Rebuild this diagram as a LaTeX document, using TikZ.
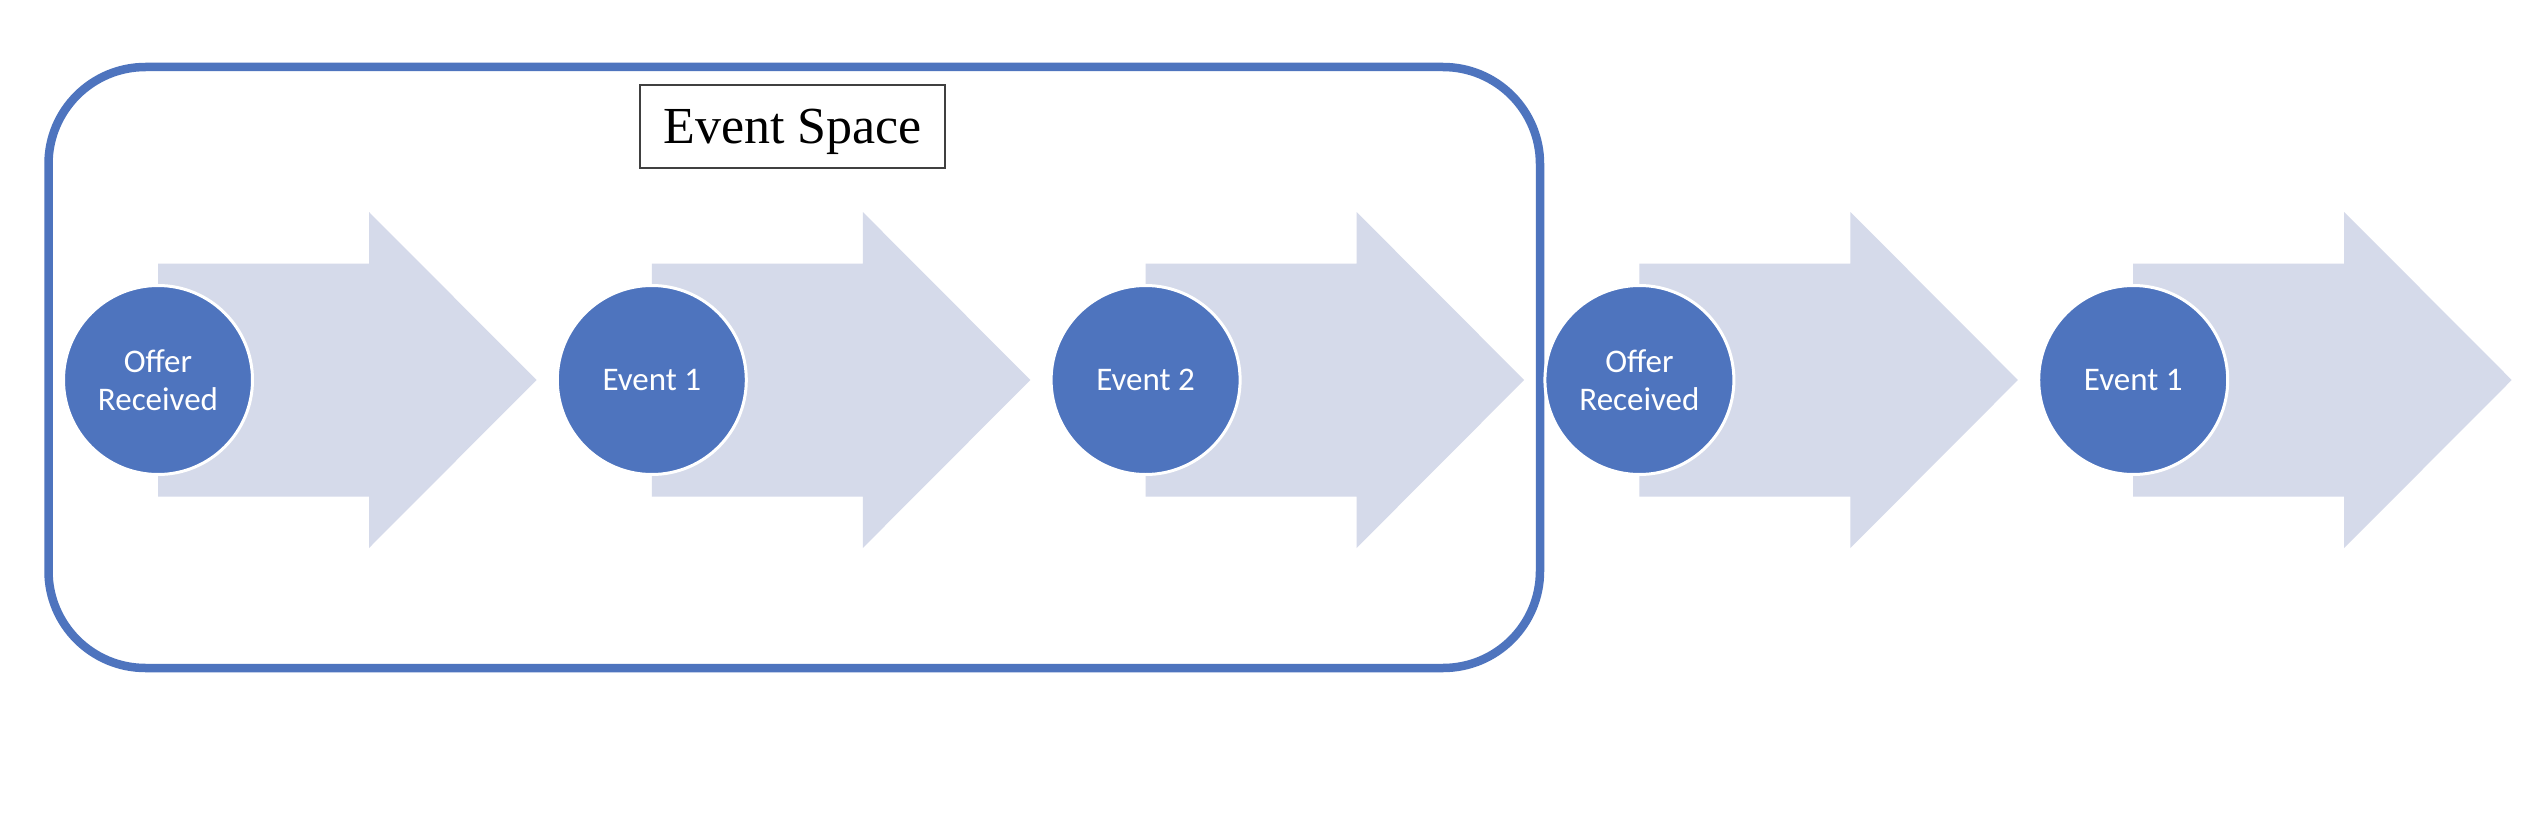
\documentclass[tikz,border=0pt]{standalone}
\usepackage{fontspec}
\setmainfont{Liberation Serif}
\newfontfamily\calib{Carlito}
\definecolor{circc}{HTML}{4E74BE}
\definecolor{arrowc}{HTML}{D5DAEA}
\definecolor{framec}{HTML}{4E74BE}
\definecolor{titlec}{HTML}{404040}
\begin{document}
\begin{tikzpicture}[x=1pt,y=-1pt,
  stage/.style={circle, fill=circc, draw=white, line width=3pt, minimum size=189pt, inner sep=0pt, text=white, font=\calib\fontsize{33}{38}\selectfont, align=center},
  chevron/.style={fill=arrowc, draw=none},
  frame/.style={draw=framec, line width=8.5pt, rounded corners=97pt},
  titlebox/.style={draw=titlec, line width=2.5pt, minimum width=305pt, minimum height=83pt, inner sep=0pt, text depth=0pt, font=\fontsize{52}{60}\selectfont}]
\useasboundingbox[fill=white] (0,0) rectangle (2538,816);
% outer frame
\draw[frame] (48.5,67) rectangle (1540,668);
\node[titlebox] (title) at (792.5,126.5) {Event Space};
% centres
\foreach \i in {0,...,4}{
  \pgfmathsetmacro{\cx}{158+493.8*\i}
  \coordinate (p\i) at (\cx,380);
}
% arrows
\foreach \i in {0,...,4}{
  \fill[chevron, shift={(p\i)}] (0,-116.5) -- (211,-116.5) -- (211,-168) -- (378.5,0) -- (211,168) -- (211,116.5) -- (0,116.5) -- cycle;
}
% circles
\foreach \i/\lab in {0/{Offer\\Received},1/{Event 1},2/{Event 2},3/{Offer\\Received},4/{Event 1}}{
  \node[stage] (c\i) at (p\i) {\lab};
}
\end{tikzpicture}
\end{document}
